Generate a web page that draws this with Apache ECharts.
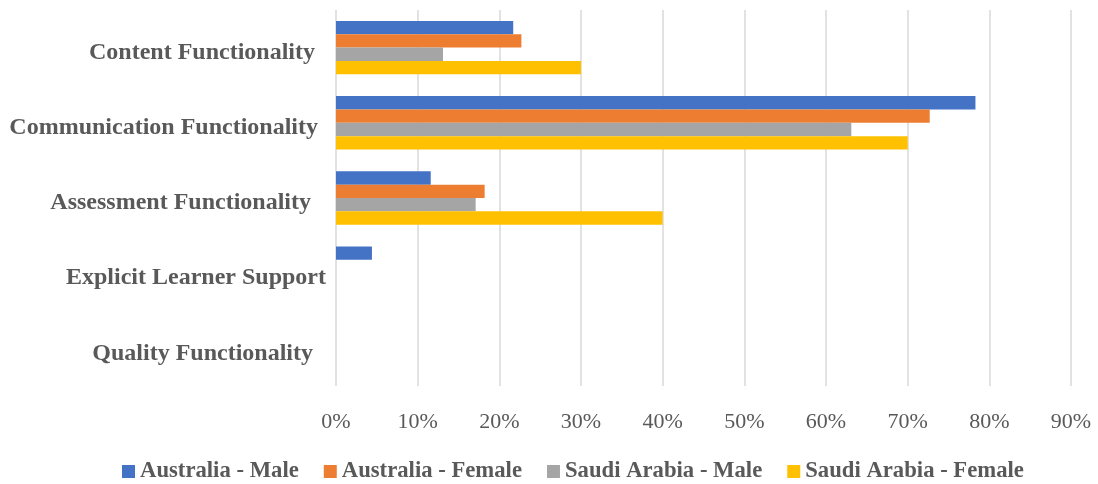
<!DOCTYPE html>
<html>
<head>
<meta charset="utf-8">
<script src="https://cdn.jsdelivr.net/npm/echarts@6/dist/echarts.min.js"></script>
<style>html,body{margin:0;padding:0;background:#fff}#c{width:1098px;height:484px}</style>
</head>
<body>
<div id="c"></div>
<script>
const categories = ['Content Functionality', 'Communication Functionality', 'Assessment Functionality', 'Explicit Learner Support', 'Quality Functionality'];
const seriesNames = ['Australia - Male', 'Australia - Female', 'Saudi Arabia - Male', 'Saudi Arabia - Female'];
const australiaMale = [0.217, 0.783, 0.116, 0.044, 0];
const australiaFemale = [0.227, 0.727, 0.182, 0, 0];
const saudiMale = [0.131, 0.631, 0.171, 0, 0];
const saudiFemale = [0.300, 0.700, 0.400, 0, 0];
const xTicks = [0, 0.1, 0.2, 0.3, 0.4, 0.5, 0.6, 0.7, 0.8, 0.9];

const colors = ['#4472C4', '#ED7D31', '#A5A5A5', '#FFC000'];
const labelPad = [21, 18, 25, 10, 23];
const rich = {};
labelPad.forEach((p, i) => {
  rich['c' + i] = { fontFamily: 'Liberation Serif', fontWeight: 'bold', fontSize: 24, color: '#595959', padding: [10, p, 0, 0] };
});

const values = [australiaMale, australiaFemale, saudiMale, saudiFemale];
const chart = echarts.init(document.getElementById('c'));
chart.setOption({
  animation: false,
  color: colors,
  grid: { left: 336, right: 27, top: 10, bottom: 98, containLabel: false },
  xAxis: {
    type: 'value', min: 0, max: xTicks[xTicks.length - 1], interval: 0.1,
    axisLine: { show: false }, axisTick: { show: false },
    splitLine: { lineStyle: { color: '#D9D9D9', width: 1.5 } },
    axisLabel: { margin: 25, fontFamily: 'Liberation Serif', fontSize: 22, color: '#595959',
      formatter: v => Math.round(v * 100) + '%' }
  },
  yAxis: {
    type: 'category', data: categories, inverse: true,
    axisLine: { show: false }, axisTick: { show: false },
    axisLabel: { margin: 0, formatter: (v, i) => '{c' + i + '|' + v + '}', rich: rich }
  },
  legend: {
    left: 122, top: 460, padding: 0, itemWidth: 13, itemHeight: 13, itemGap: 25,
    icon: 'rect',
    textStyle: { fontFamily: 'Liberation Serif', fontWeight: 'bold', fontSize: 22.7, color: '#595959' },
    data: seriesNames
  },
  series: values.map((d, i) => ({
    name: seriesNames[i], type: 'bar', data: d,
    barGap: '0%', barCategoryGap: '29%'
  }))
});
</script>
</body>
</html>
